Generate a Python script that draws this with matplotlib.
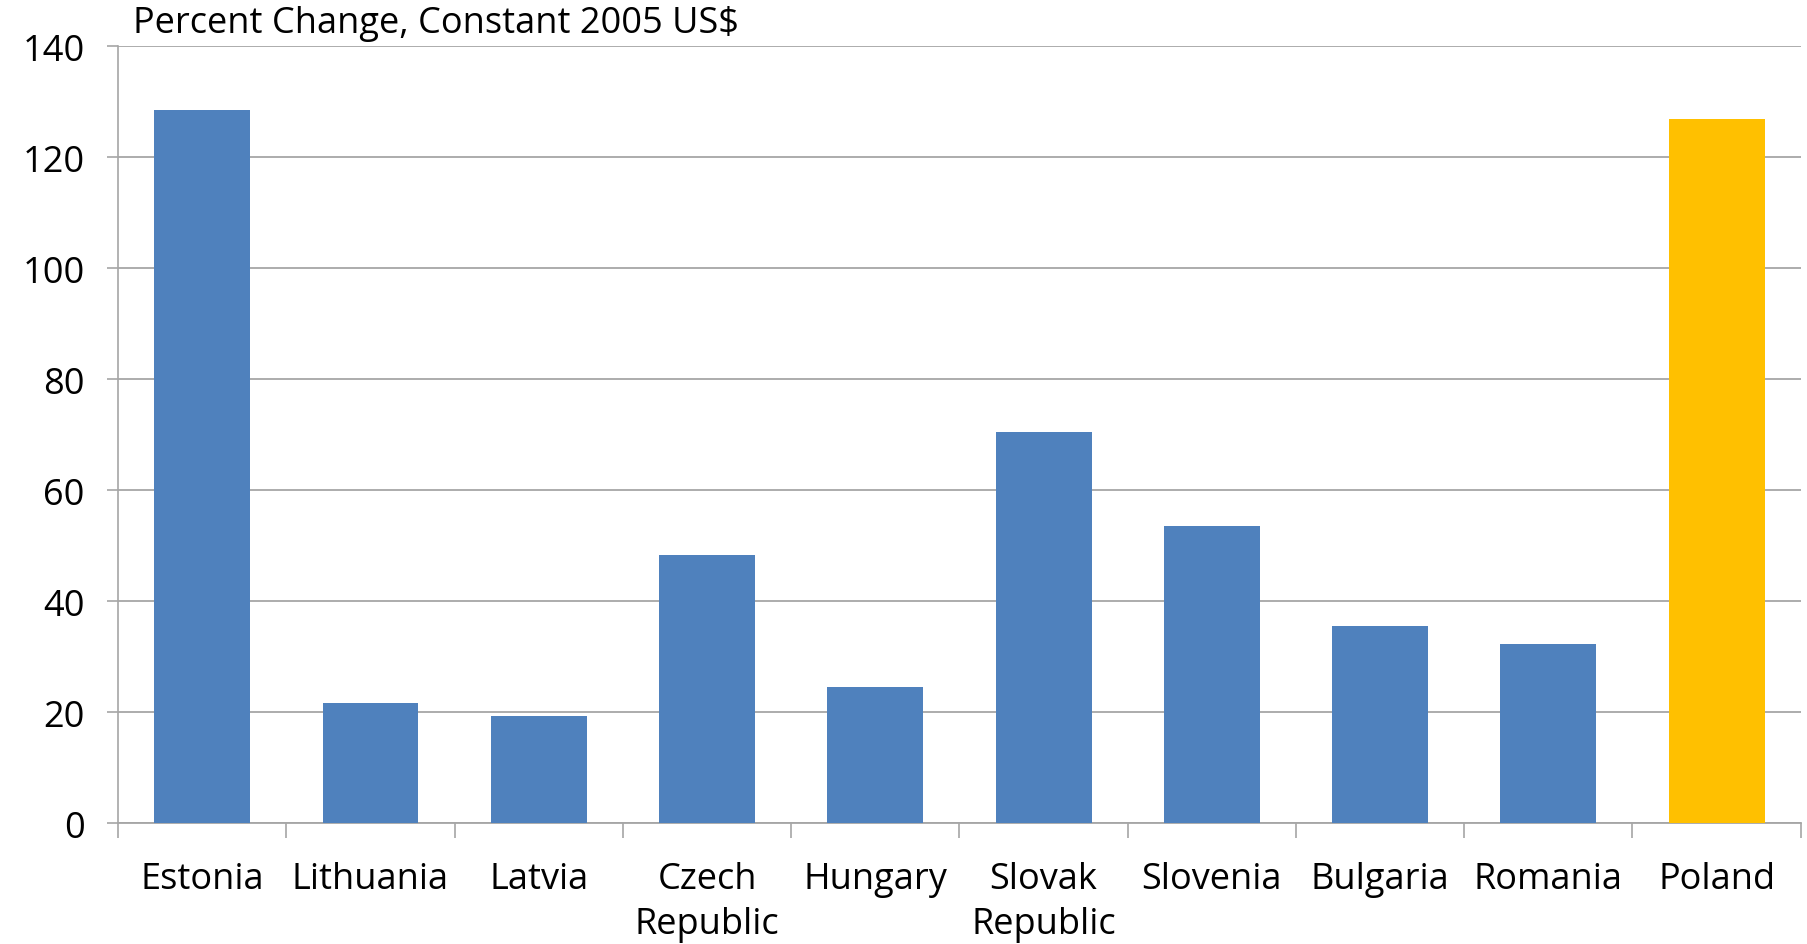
import matplotlib
matplotlib.use("Agg")
import matplotlib.pyplot as plt
from matplotlib.ticker import FixedLocator

countries = ["Estonia", "Lithuania", "Latvia", "Czech\nRepublic", "Hungary",
             "Slovak\nRepublic", "Slovenia", "Bulgaria", "Romania", "Poland"]
values = [128.6, 21.6, 19.3, 48.3, 24.5, 70.5, 53.5, 35.5, 32.2, 126.8]
colors = ["#4F81BD"] * 9 + ["#FFC000"]
yticks = [0, 20, 40, 60, 80, 100, 120, 140]
title = "Percent Change, Constant 2005 US$"

plt.rcParams['font.family'] = ['Open Sans', 'DejaVu Sans']
FS = 26

fig = plt.figure(figsize=(18.08, 9.45), dpi=100)
ax = fig.add_axes([0.0653, 0.128, 0.9307, 0.822])

x = list(range(len(countries)))
ax.bar(x, values, width=0.57, color=colors, zorder=3)

ax.set_xlim(-0.5, len(countries) - 0.5)
ax.set_ylim(0, 140)
ax.set_yticks(yticks)
ax.set_yticklabels([str(t) for t in yticks], fontsize=FS)
ax.yaxis.grid(True, color="#A6A6A6", linewidth=1.3, zorder=0)
ax.set_axisbelow(True)

ax.set_xticks(x)
ax.set_xticklabels(countries, fontsize=FS, linespacing=1.35)
ax.tick_params(axis='x', length=0, pad=27)
ax.xaxis.set_minor_locator(FixedLocator([i - 0.5 for i in range(len(countries) + 1)]))
ax.tick_params(axis='x', which='minor', length=11, color="#A6A6A6", width=1.2, direction='out')
ax.tick_params(axis='y', length=8, color="#A6A6A6", width=1.2, pad=16)

for s in ["top", "right"]:
    ax.spines[s].set_visible(False)
ax.spines["left"].set_color("#A6A6A6")
ax.spines["bottom"].set_color("#A6A6A6")
ax.spines["left"].set_linewidth(1.2)
ax.spines["bottom"].set_linewidth(1.3)

fig.text(133 / 1808, 1 - 24 / 945, title, fontsize=FS, ha='left', va='center')

fig.savefig("out.png", dpi=100)
